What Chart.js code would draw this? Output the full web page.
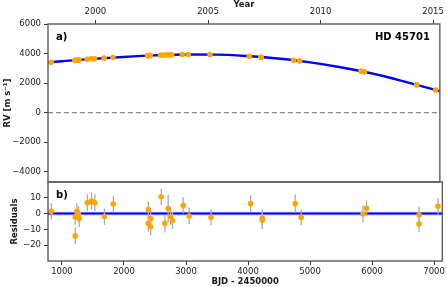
<!DOCTYPE html>
<html>
<head>
<meta charset="utf-8">
<script src="https://cdn.jsdelivr.net/npm/chart.js@4.4.1/dist/chart.umd.min.js"></script>
<style>
    html, body { margin: 0; padding: 0; background: #fff; }
    #wrap { position: relative; width: 447px; height: 287px; }
    #wrap canvas { position: absolute; left: 0; top: 0; }
</style>
</head>
<body>
<div id="wrap">
    <canvas id="rvChart" width="447" height="287"></canvas>
    <canvas id="resChart" width="447" height="287"></canvas>
</div>
<script>
// ─── Data ───
const bjd = [828, 1214, 1214, 1241, 1267, 1278, 1411, 1476, 1530, 1685, 1829,
    2392, 2392, 2430, 2430, 2601, 2660, 2713, 2752, 2784, 2954, 3051, 3404,
    4042, 4230, 4230, 4760, 4857, 5853, 5911, 6758, 6758, 7063];
const rv = [3414, 3540, 3540, 3550, 3560, 3565, 3610, 3635, 3650, 3690, 3730,
    3860, 3860, 3865, 3865, 3895, 3900, 3910, 3910, 3915, 3930, 3935, 3930,
    3820, 3750, 3750, 3550, 3500, 2810, 2760, 1890, 1890, 1530];
const residuals = [1.4, -2.1, -14.1, 1.5, -0.4, -3.1, 6.9, 7.9, 6.9, -1.9, 6.1,
    2.5, -6.2, -3.1, -8.3, 10.6, -6.2, 3.2, -1.9, -4.4, 5.2, -1.5, -2.3,
    6.3, -2.8, -4.2, 6.3, -2.4, -0.3, 3.3, -0.7, -6.6, 4.6];
const resErr = [5.2, 5.0, 5.3, 5.0, 5.2, 5.4, 5.3, 5.4, 5.3, 5.2, 5.2,
    5.1, 5.3, 5.2, 5.4, 5.2, 5.8, 8.5, 5.3, 5.2, 5.2, 5.2, 5.1,
    5.2, 5.4, 5.6, 5.8, 5.0, 5.4, 5.0, 5.2, 5.0, 5.2];

const modelBjd = [775, 1000, 1500, 2000, 2500, 3000, 3500, 4000, 4500, 5000, 5500, 6000, 6500, 7000, 7135];
const modelRv = [3395, 3475, 3640, 3770, 3875, 3930, 3925, 3830, 3660, 3420, 3090, 2680, 2170, 1605, 1445];

const xMin = 775, xMax = 7133;
const rvMin = -4700, rvMax = 6000;
const resMin = -30, resMax = 20;

const rvTicks = [-4000, -2000, 0, 2000, 4000, 6000];
const resTicks = [-20, -10, 0, 10];
const bjdTicks = [1000, 2000, 3000, 4000, 5000, 6000, 7000];
const yearLabels = ['2000', '2005', '2010', '2015'];
const yearBjd = [1544.5, 3371.5, 5197.5, 7023.5];   // 1 Jan of each year

// ─── Defaults ───
Chart.defaults.font.family = "'DejaVu Sans', sans-serif";
Chart.defaults.font.size = 8.5;
Chart.defaults.color = '#1a1a1a';
Chart.defaults.animation = false;
Chart.defaults.plugins.legend.display = false;
Chart.defaults.plugins.tooltip.enabled = false;

const fmt = v => (v < 0 ? '\u2212' + Math.abs(v) : String(v));
const tickGrid = { drawOnChartArea: false, drawTicks: true, tickLength: 4, tickColor: '#333', tickWidth: 1 };
const boldTitle = { size: 8.5, weight: 'bold', lineHeight: 1.2 };

// ─── Plugins ───
const framePlugin = {
    id: 'frame',
    afterDatasetsDraw(chart) {
        const { ctx, chartArea: a } = chart;
        ctx.save();
        ctx.strokeStyle = '#5c5c5c';
        ctx.lineWidth = 1.4;
        ctx.strokeRect(a.left, a.top, a.right - a.left, a.bottom - a.top);
        ctx.restore();
    }
};

const panelText = {
    id: 'panelText',
    afterDraw(chart, args, opts) {
        const { ctx, chartArea: a } = chart;
        ctx.save();
        ctx.fillStyle = '#000';
        ctx.font = "bold 10px 'DejaVu Sans', sans-serif";
        ctx.textBaseline = 'middle';
        ctx.textAlign = 'left';
        ctx.fillText(opts.tag, a.left + 8, a.top + opts.dy);
        if (opts.name) {
            ctx.textAlign = 'right';
            ctx.fillText(opts.name, a.right - 10, a.top + opts.dy);
        }
        ctx.restore();
    }
};

const errorBars = {
    id: 'errorBars',
    beforeDatasetDraw(chart, args) {
        if (args.index !== 0) return;
        const { ctx, scales: { x, y } } = chart;
        ctx.save();
        ctx.strokeStyle = '#ababab';
        ctx.lineWidth = 1.3;
        bjd.forEach((t, i) => {
            const px = x.getPixelForValue(t);
            ctx.beginPath();
            ctx.moveTo(px, y.getPixelForValue(residuals[i] - resErr[i]));
            ctx.lineTo(px, y.getPixelForValue(residuals[i] + resErr[i]));
            ctx.stroke();
        });
        ctx.restore();
    }
};

// ─── Panel a) RV ───
new Chart(document.getElementById('rvChart'), {
    type: 'scatter',
    data: {
        datasets: [{
            data: bjd.map((t, i) => ({ x: t, y: rv[i] })),
            backgroundColor: '#ffa500',
            borderWidth: 0,
            pointRadius: 2.8,
            order: 0
        }, {
            type: 'line',
            data: modelBjd.map((t, i) => ({ x: t, y: modelRv[i] })),
            borderColor: '#0000ff',
            borderWidth: 2.4,
            pointRadius: 0,
            cubicInterpolationMode: 'monotone',
            fill: false,
            order: 1
        }, {
            type: 'line',
            data: [{ x: xMin, y: 0 }, { x: xMax, y: 0 }],
            borderColor: '#8a8a8a',
            borderWidth: 1.2,
            borderDash: [5, 3],
            pointRadius: 0,
            order: 2
        }]
    },
    options: {
        responsive: false,
        devicePixelRatio: 1,
        layout: { padding: { top: 0, right: 4, bottom: 105, left: 0 } },
        scales: {
            x: { type: 'linear', min: xMin, max: xMax, display: false },
            year: {
                type: 'linear', position: 'top', min: xMin, max: xMax,
                afterBuildTicks: s => { s.ticks = yearBjd.map(v => ({ value: v })); },
                afterFit: s => { s.height = 24; },
                grid: tickGrid,
                border: { display: false },
                ticks: { callback: (v, i) => yearLabels[i], autoSkip: false, maxRotation: 0, padding: 3 },
                title: { display: true, text: 'Year', font: boldTitle, padding: { top: 0, bottom: 0 } }
            },
            y: {
                type: 'linear', position: 'left', min: rvMin, max: rvMax,
                afterBuildTicks: s => { s.ticks = rvTicks.map(v => ({ value: v })); },
                afterFit: s => { s.width = 48; },
                grid: tickGrid,
                border: { display: false },
                ticks: { callback: v => fmt(v), padding: 3 },
                title: { display: true, text: 'RV [m s\u207B\u00B9]', font: boldTitle, padding: { top: 3, bottom: 0 } }
            }
        },
        plugins: { panelText: { tag: 'a)', name: 'HD 45701', dy: 13 } }
    },
    plugins: [framePlugin, panelText]
});

// ─── Panel b) Residuals ───
new Chart(document.getElementById('resChart'), {
    type: 'scatter',
    data: {
        datasets: [{
            data: bjd.map((t, i) => ({ x: t, y: residuals[i] })),
            backgroundColor: '#ffa500',
            borderWidth: 0,
            pointRadius: 2.8,
            order: 0
        }, {
            type: 'line',
            data: [{ x: xMin, y: 0 }, { x: xMax, y: 0 }],
            borderColor: '#0000ff',
            borderWidth: 2,
            pointRadius: 0,
            order: 1
        }, {
            type: 'line',
            data: [{ x: xMin, y: 0 }, { x: xMax, y: 0 }],
            borderColor: 'rgba(0, 0, 255, 0.22)',
            borderWidth: 3.6,
            pointRadius: 0,
            order: 2
        }]
    },
    options: {
        responsive: false,
        devicePixelRatio: 1,
        layout: { padding: { top: 182, right: 4, bottom: 0, left: 0 } },
        scales: {
            x: {
                type: 'linear', position: 'bottom', min: xMin, max: xMax,
                afterBuildTicks: s => { s.ticks = bjdTicks.map(v => ({ value: v })); },
                afterFit: s => { s.height = 26; },
                grid: tickGrid,
                border: { display: false },
                ticks: { callback: v => fmt(v), autoSkip: false, maxRotation: 0, padding: 2 },
                title: { display: true, text: 'BJD - 2450000', font: boldTitle, padding: { top: 0, bottom: 0 } }
            },
            y: {
                type: 'linear', position: 'left', min: resMin, max: resMax,
                afterBuildTicks: s => { s.ticks = resTicks.map(v => ({ value: v })); },
                afterFit: s => { s.width = 48; },
                grid: tickGrid,
                border: { display: false },
                ticks: { callback: v => fmt(v), padding: 3 },
                title: { display: true, text: 'Residuals', font: boldTitle, padding: { top: 10, bottom: 0 } }
            }
        },
        plugins: { panelText: { tag: 'b)', dy: 13 } }
    },
    plugins: [framePlugin, panelText, errorBars]
});
</script>
</body>
</html>
